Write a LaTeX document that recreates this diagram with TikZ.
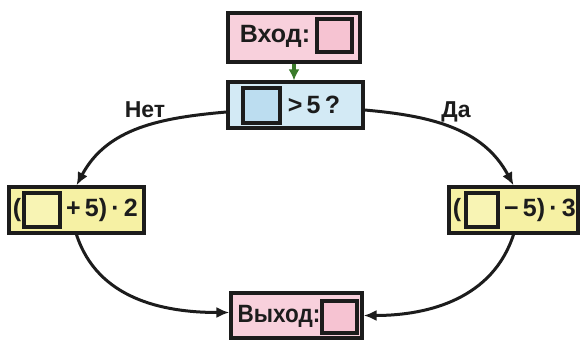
\documentclass[tikz,border=0pt]{standalone}
\usepackage{fontspec}
\setmainfont{Liberation Sans}
\usetikzlibrary{arrows.meta}
\definecolor{pinkbox}{HTML}{F8D0DC}
\definecolor{pinksq}{HTML}{F6C3D2}
\definecolor{bluebox}{HTML}{D3EAF5}
\definecolor{bluesq}{HTML}{BCDDF0}
\definecolor{yelbox}{HTML}{F6F1A4}
\definecolor{yelsq}{HTML}{F8F4B4}
\definecolor{darkline}{HTML}{1C1C1C}
\definecolor{greenarr}{HTML}{3A7A2A}
\tikzset{
  box/.style={draw=darkline, line width=3.2pt, inner sep=0pt},
  sq/.style={draw=darkline, line width=3.2pt, inner sep=0pt},
  txt/.style={inner sep=0pt, font=\fontsize{25}{30}\selectfont\bfseries, text=darkline},
  lbl/.style={inner sep=0pt, font=\fontsize{23}{27}\selectfont\bfseries, text=darkline},
  arr/.style={draw=darkline, line width=3pt, -{Latex[length=13pt,width=11pt]}},
  garr/.style={draw=greenarr, line width=3.2pt, -{Latex[length=11pt,width=11pt]}}
}
\begin{document}
\begin{tikzpicture}[x=1pt,y=1pt]
\useasboundingbox[fill=white] (0,0) rectangle (580,341);
% boxes
\node[box, fill=pinkbox, minimum width=132pt, minimum height=49pt] (in) at (294,303.5) {};
\node[box, fill=bluebox, minimum width=135pt, minimum height=46pt] (cond) at (295.5,236) {};
\node[box, fill=yelbox, minimum width=135pt, minimum height=46pt] (lbox) at (76.5,131) {};
\node[box, fill=yelbox, minimum width=129pt, minimum height=46pt] (rbox) at (513.5,131) {};
\node[box, fill=pinkbox, minimum width=131pt, minimum height=45pt] (outb) at (296.5,25.5) {};
% contents
\node[txt] (intxt) at (275,305) {Вход:};
\node[sq, fill=pinksq, minimum width=35pt, minimum height=33pt] (insq) at (334.5,305.5) {};
\node[sq, fill=bluesq, minimum width=37pt, minimum height=35pt] (condsq) at (261.5,235.5) {};
\node[txt] (condtxt) at (314,236) {>\,5\,?};
\node[txt] (lpar) at (17,131) {(};
\node[sq, fill=yelsq, minimum width=36pt, minimum height=34pt] (lsq) at (42,131) {};
\node[txt] (ltxt) at (102,131) {+\,5)\,·\,2};
\node[txt] (rpar) at (457,131) {(};
\node[sq, fill=yelsq, minimum width=32pt, minimum height=34pt] (rsq) at (482,131) {};
\node[txt] (rtxt) at (540,131) {−\,5)\,·\,3};
\node[txt] (outtxt) at (279,25) {\scalebox{0.9}[1]{Выход:}};
\node[sq, fill=pinksq, minimum width=35pt, minimum height=32pt] (outsq) at (339.5,24) {};
% labels
\node[lbl] (no) at (145,231) {Нет};
\node[lbl] (yes) at (456,229) {Да};
% connectors
\draw[garr] (in.south) -- (in.south |- cond.north);
\draw[arr] ([yshift=-7pt]cond.west) to[out=185,in=62] (lbox.north);
\draw[arr] (lbox.south) to[out=-72,in=180] ([yshift=3pt]outb.west);
\draw[arr] ([yshift=-5pt]cond.east) to[out=-5,in=118] (rbox.north);
\draw[arr] (rbox.south) to[out=-108,in=0] ([yshift=0pt]outb.east);
\end{tikzpicture}
\end{document}
